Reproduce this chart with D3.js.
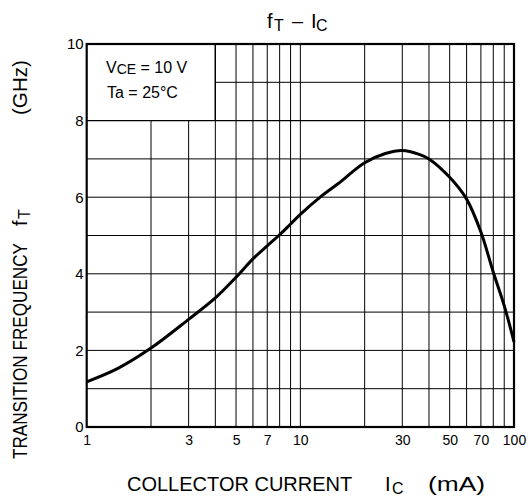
<!DOCTYPE html>
<html><head><meta charset="utf-8">
<script src="https://cdn.jsdelivr.net/npm/d3@7"></script>
<style>body{margin:0;background:#fff}svg{display:block;font-family:"Liberation Sans",Arial,sans-serif}</style>
</head><body><svg id="c" width="528" height="499"></svg>
<script>
const current = [1,1.4,2,3,4,5,6,7,8,9,10,12.5,15,20,25,30,36,40,50,60,70,80,90,100];
const ft = [1.18,1.53,2.06,2.81,3.37,3.91,4.39,4.73,5.02,5.3,5.55,6.02,6.35,6.9,7.14,7.22,7.12,7.0,6.52,5.95,5.09,4.04,3.17,2.22];
const xTickLabels = [1,3,5,7,10,30,50,70,100];
const yTickLabels = [0,2,4,6,8,10];
const xGrid = [2,3,4,5,6,7,8,9,10,20,30,40,50,60,70,80,90];
const yGrid = [1,2,3,4,5,6,7,8,9];

const svg = d3.select("#c");
const L=86.7,R=514,T=44,B=427;
const x = d3.scaleLog().domain([1,100]).range([L,R]);
const y = d3.scaleLinear().domain([0,10]).range([B,T]);
const g = svg.append("g");

// grid: legend box covers x in [1,4], y in [8,10]
xGrid.forEach(v=>{
  const top = v<4 ? y(8) : T;
  g.append("line").attr("x1",x(v)).attr("x2",x(v)).attr("y1",top).attr("y2",B)
   .attr("stroke","#000").attr("stroke-width",1);
});
yGrid.forEach(v=>{
  const left = v>8 ? x(4) : L;
  g.append("line").attr("x1",left).attr("x2",R).attr("y1",y(v)).attr("y2",y(v))
   .attr("stroke","#000").attr("stroke-width",v===8?1.4:1);
});
g.append("line").attr("x1",x(4)).attr("x2",x(4)).attr("y1",T).attr("y2",y(8)).attr("stroke","#000").attr("stroke-width",1.4);

g.append("rect").attr("x",L).attr("y",T).attr("width",R-L).attr("height",B-T)
 .attr("fill","none").attr("stroke","#000").attr("stroke-width",2.2);

// curve
const line = d3.line().x((d,i)=>x(current[i])).y(d=>y(d)).curve(d3.curveCatmullRom.alpha(0.5));
g.append("path").attr("d",line(ft)).attr("fill","none").attr("stroke","#000").attr("stroke-width",3).attr("stroke-linejoin","round");

// ticks
const xa = svg.append("g").attr("transform",`translate(0,${B})`)
  .call(d3.axisBottom(x).tickValues(xTickLabels).tickFormat(d3.format("d")).tickSize(0).tickPadding(8));
xa.select(".domain").remove();
xa.selectAll("text").attr("font-size",14).attr("font-family","Liberation Sans, Arial").attr("fill","#000");
const ya = svg.append("g").attr("transform",`translate(${L},0)`)
  .call(d3.axisLeft(y).tickValues(yTickLabels).tickSize(0).tickPadding(3));
ya.select(".domain").remove();
ya.selectAll("text").attr("font-size",15).attr("font-family","Liberation Sans, Arial").attr("fill","#000");

// title
const t = svg.append("text").attr("y",27.5).attr("font-size",20);
t.append("tspan").attr("x",267).text("f");
t.append("tspan").attr("x",274).attr("font-size",16).attr("dy",3).text("T");
t.append("tspan").attr("x",292).attr("dy",-3).text("\u2013");
t.append("tspan").attr("x",311).text("I");
t.append("tspan").attr("x",316).attr("font-size",16).attr("dy",3).text("C");

// legend text
const l1 = svg.append("text").attr("x",106).attr("y",73).attr("font-size",16);
l1.append("tspan").text("V");
l1.append("tspan").attr("font-size",14).attr("dy",1).text("CE");
l1.append("tspan").attr("dy",-1).text(" = 10 V");
svg.append("text").attr("x",107).attr("y",98).attr("font-size",16).text("Ta = 25\u00b0C");

// x title
const xt = svg.append("text").attr("y",491).attr("font-size",20);
xt.append("tspan").attr("x",127).text("COLLECTOR CURRENT");
xt.append("tspan").attr("x",385).text("I");
xt.append("tspan").attr("x",392).attr("font-size",16).attr("dy",3).text("C");
xt.append("tspan").attr("x",428).attr("dy",-3).attr("textLength",57).attr("lengthAdjust","spacingAndGlyphs").text("(mA)");

// y title
const yt = svg.append("text").attr("transform","translate(27,459) rotate(-90)").attr("font-size",20);
yt.append("tspan").attr("x",0).attr("textLength",216).attr("lengthAdjust","spacingAndGlyphs").text("TRANSITION FREQUENCY");
yt.append("tspan").attr("x",233).text("f");
yt.append("tspan").attr("x",240).attr("font-size",16).attr("dy",3).text("T");
yt.append("tspan").attr("x",344).attr("dy",-3).attr("textLength",55).attr("lengthAdjust","spacingAndGlyphs").text("(GHz)");
</script></body></html>
